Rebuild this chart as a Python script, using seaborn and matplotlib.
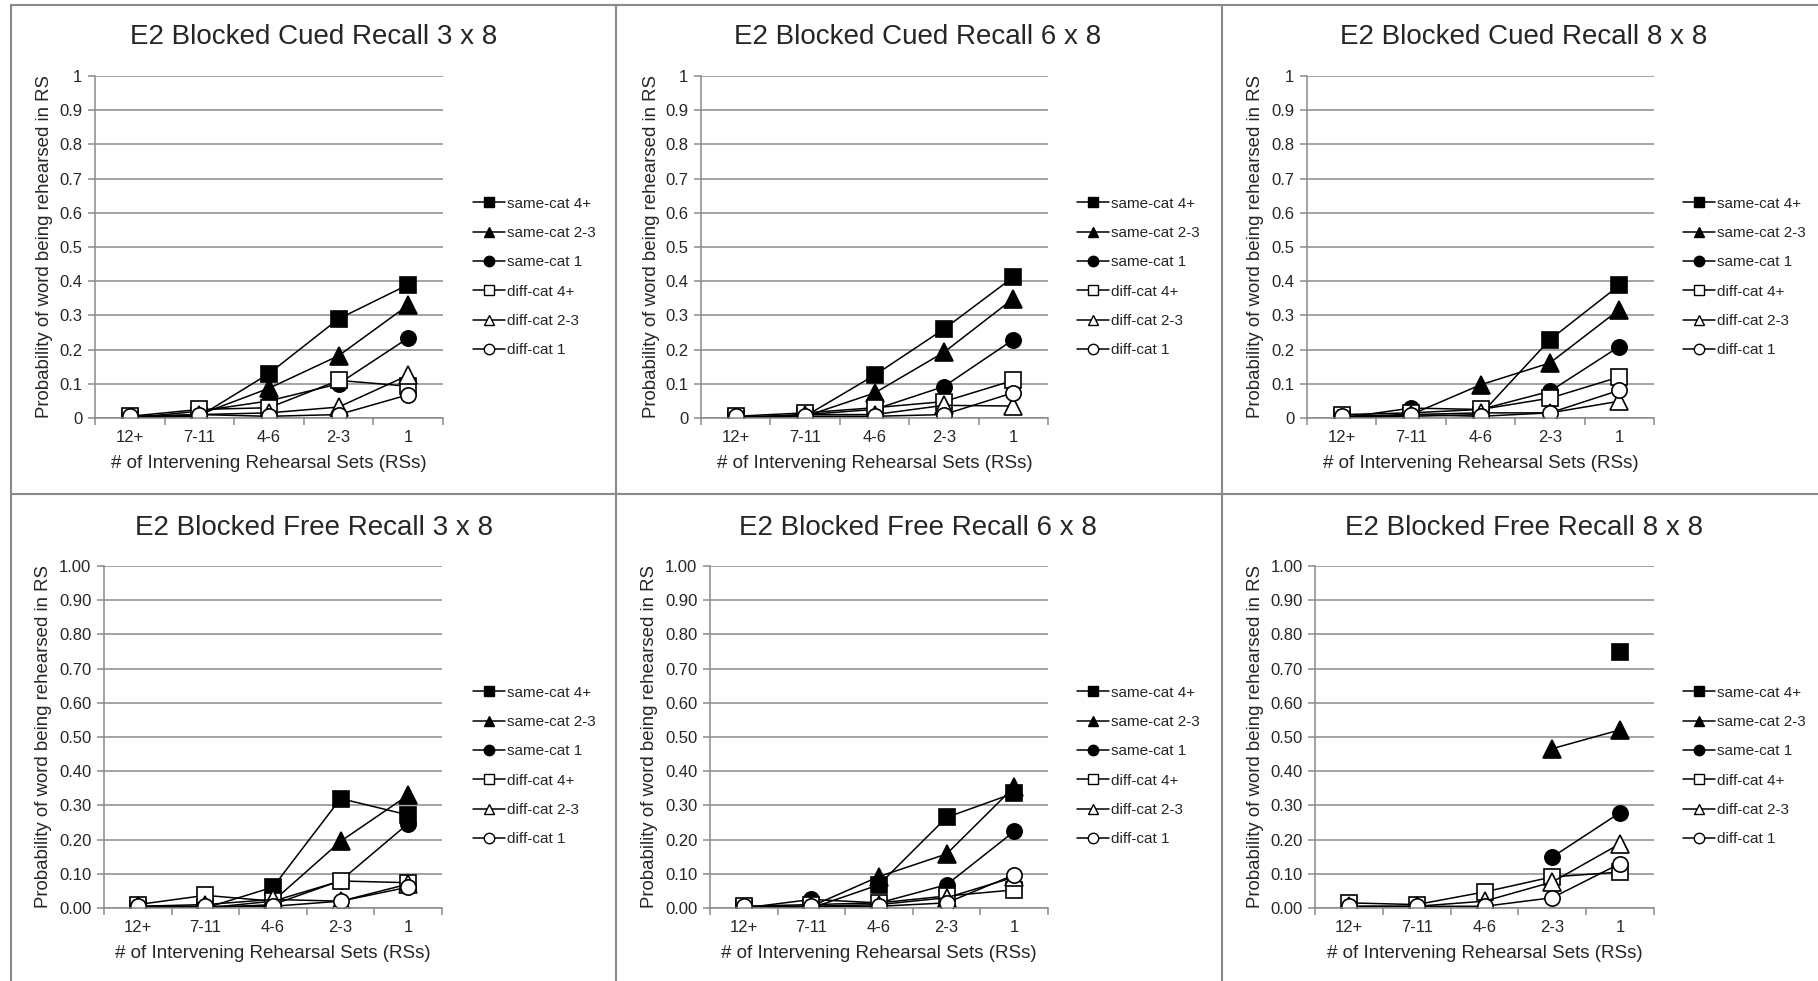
import numpy as np
import pandas as pd
import seaborn as sns
import matplotlib.pyplot as plt
from matplotlib.lines import Line2D
from matplotlib.ticker import FuncFormatter

sns.set_style("white")
plt.rcParams['font.family'] = ['Liberation Sans', 'DejaVu Sans']

rs_bins = ["12+", "7-11", "4-6", "2-3", "1"]
series_names = ["same-cat 4+", "same-cat 2-3", "same-cat 1",
                "diff-cat 4+", "diff-cat 2-3", "diff-cat 1"]
series_markers = ["s", "^", "o", "s", "^", "o"]
series_fills = ["black", "black", "black", "white", "white", "white"]

titles = ["E2 Blocked Cued Recall 3 x 8", "E2 Blocked Cued Recall 6 x 8",
          "E2 Blocked Cued Recall 8 x 8", "E2 Blocked Free Recall 3 x 8",
          "E2 Blocked Free Recall 6 x 8", "E2 Blocked Free Recall 8 x 8"]

# one row per series, columns follow rs_bins
cued_3x8 = [[0.0, 0.005, 0.13, 0.29, 0.39],
            [0.0, 0.01, 0.087, 0.182, 0.33],
            [0.0, 0.02, 0.05, 0.10, 0.234],
            [0.005, 0.025, 0.03, 0.11, 0.093],
            [0.0, 0.01, 0.015, 0.032, 0.125],
            [0.005, 0.01, 0.005, 0.01, 0.068]]
cued_6x8 = [[0.0, 0.005, 0.125, 0.26, 0.412],
            [0.0, 0.005, 0.073, 0.192, 0.349],
            [0.0, 0.01, 0.025, 0.092, 0.229],
            [0.005, 0.015, 0.03, 0.048, 0.11],
            [0.0, 0.01, 0.01, 0.037, 0.035],
            [0.005, 0.005, 0.005, 0.01, 0.074]]
cued_8x8 = [[0.0, 0.005, 0.01, 0.229, 0.388],
            [0.0, 0.01, 0.097, 0.161, 0.317],
            [0.0, 0.029, 0.025, 0.078, 0.209],
            [0.01, 0.015, 0.025, 0.058, 0.12],
            [0.0, 0.01, 0.015, 0.015, 0.049],
            [0.005, 0.01, 0.005, 0.015, 0.081]]
free_3x8 = [[0.0, 0.0, 0.061, 0.32, 0.272],
            [0.0, 0.0, 0.02, 0.195, 0.33],
            [0.0, 0.0, 0.01, 0.08, 0.247],
            [0.01, 0.037, 0.02, 0.079, 0.074],
            [0.005, 0.01, 0.025, 0.02, 0.07],
            [0.005, 0.005, 0.005, 0.02, 0.061]]
free_6x8 = [[0.0, 0.0, 0.068, 0.265, 0.336],
            [0.0, 0.005, 0.092, 0.158, 0.354],
            [0.0, 0.025, 0.015, 0.068, 0.224],
            [0.005, 0.01, 0.015, 0.035, 0.053],
            [0.0, 0.005, 0.01, 0.03, 0.09],
            [0.005, 0.005, 0.005, 0.015, 0.097]]
free_8x8 = [[np.nan, np.nan, np.nan, np.nan, 0.75],
            [np.nan, np.nan, np.nan, 0.466, 0.521],
            [np.nan, np.nan, np.nan, 0.149, 0.279],
            [0.015, 0.01, 0.047, 0.091, 0.105],
            [0.005, 0.005, 0.02, 0.076, 0.188],
            [0.005, 0.005, 0.005, 0.03, 0.13]]
panels = [cued_3x8, cued_6x8, cued_8x8, free_3x8, free_6x8, free_8x8]

rows = []
for p, vals in enumerate(panels):
    for name, ys in zip(series_names, vals):
        for i, (lab, y) in enumerate(zip(rs_bins, ys)):
            rows.append(dict(panel=p, series=name, pos=i, bin=lab, value=y))
df = pd.DataFrame(rows)

W, H = 1818, 981
fig = plt.figure(figsize=(W / 100, H / 100), dpi=100)
grey = "#8a8a8a"

# layout in pixels (left, right, top, bottom)
ax_px = [(95, 443, 76, 418), (701, 1048, 76, 418), (1307, 1654, 76, 418),
         (104, 442, 566, 908), (710, 1048, 566, 908), (1315, 1654, 566, 908)]
title_px = [(314, 37), (918, 37), (1524, 37), (314, 528), (918, 528), (1524, 528)]
ylab_x = [45, 651, 1256, 43, 649, 1256]
leg_px = [(473, 277), (1077, 277), (1683, 277), (473, 766), (1077, 766), (1683, 766)]

for p in range(6):
    l, r, t, b = ax_px[p]
    ax = fig.add_axes([l / W, 1 - b / H, (r - l) / W, (b - t) / H])
    sub = df[df.panel == p]
    for name, m, fc in zip(series_names, series_markers, series_fills):
        s = sub[sub.series == name].dropna()
        ms = 11.5 if m == "s" else (12.5 if m == "^" else 11)
        sns.lineplot(data=s, x="pos", y="value", color="black", lw=1.1,
                     marker=m, markersize=ms, markerfacecolor=fc,
                     markeredgecolor="black", markeredgewidth=1.2,
                     errorbar=None, ax=ax)
    ax.set_xlim(-0.5, 4.5)
    ax.set_ylim(0, 1)
    ax.set_yticks(np.arange(0, 1.01, 0.1))
    if p < 3:
        ax.yaxis.set_major_formatter(FuncFormatter(lambda v, _: f"{v:g}"))
    else:
        ax.yaxis.set_major_formatter(FuncFormatter(lambda v, _: f"{v:.2f}"))
    ax.set_xticks(range(5))
    ax.set_xticklabels(rs_bins)
    ax.set_xticks(np.arange(-0.5, 5, 1), minor=True)
    ax.tick_params(axis="x", which="major", length=0, pad=9, labelsize=12)
    ax.tick_params(axis="x", which="minor", bottom=True, length=5,
                   width=1.1, color=grey, direction="out")
    ax.tick_params(axis="y", left=True, length=5, width=1.1, color=grey,
                   pad=4, labelsize=12, direction="out")
    ax.yaxis.grid(True, color=grey, lw=1.1)
    ax.set_axisbelow(True)
    sns.despine(ax=ax)
    for sp in ("left", "bottom"):
        ax.spines[sp].set_color(grey)
        ax.spines[sp].set_linewidth(1.1)
    ax.set_xlabel("# of Intervening Rehearsal Sets (RSs)", fontsize=13.5)
    ax.xaxis.set_label_coords(0.5, -45 / (b - t))
    ax.xaxis.label.set_va("center")
    ax.set_ylabel("Probability of word being rehearsed in RS", fontsize=13.4)
    ax.yaxis.set_label_coords((ylab_x[p] - l) / (r - l), 0.5)
    ax.yaxis.label.set_va("center")
    tx, ty = title_px[p]
    fig.text(tx / W, 1 - ty / H, titles[p], fontsize=20, ha="center", va="center")
    handles = [Line2D([], [], color="black", lw=1.1, marker=m, markersize=7.5,
                      markerfacecolor=fc, markeredgecolor="black")
               for m, fc in zip(series_markers, series_fills)]
    lx, ly = leg_px[p]
    ax.legend(handles, series_names, loc="center left",
              bbox_to_anchor=(lx / W, 1 - ly / H), bbox_transform=fig.transFigure,
              frameon=False, borderpad=0, borderaxespad=0, handlelength=2.1,
              handletextpad=0.15, labelspacing=1.0, fontsize=11)

# chart borders
for x in (11, 616, 1222):
    fig.add_artist(Line2D([x / W, x / W], [0, 1 - 5 / H], color=grey, lw=1.5))
for y in (5, 494):
    fig.add_artist(Line2D([11 / W, 1], [1 - y / H, 1 - y / H], color=grey, lw=1.5))

fig.savefig("out.png", dpi=100)
